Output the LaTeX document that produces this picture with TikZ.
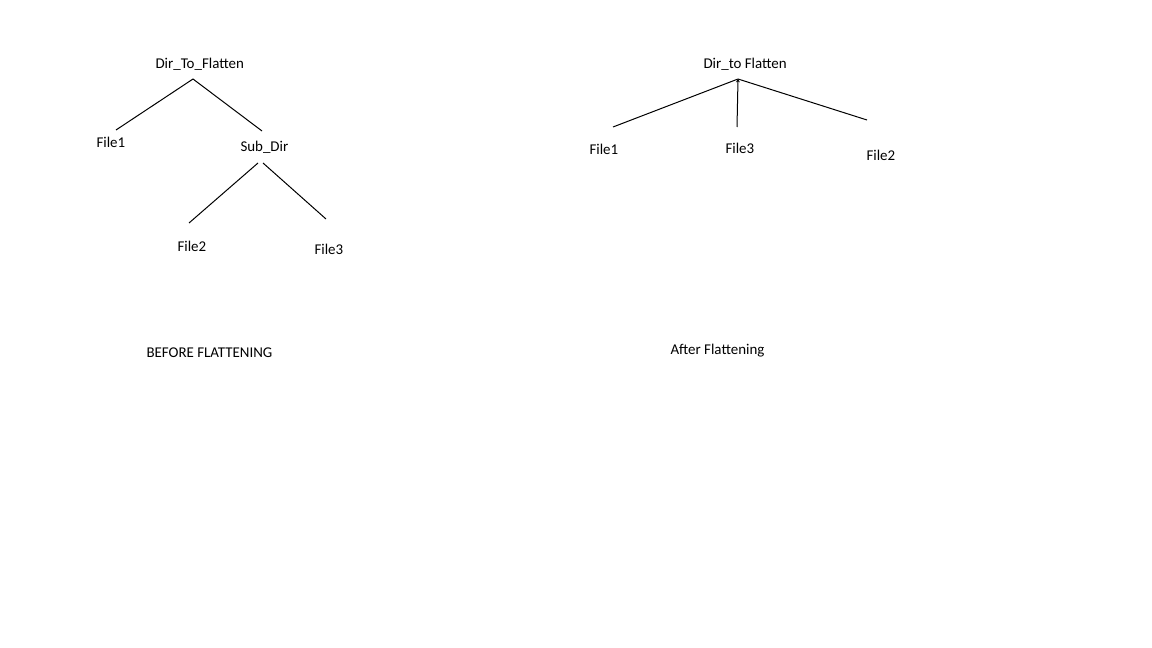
\documentclass[tikz,border=0pt]{standalone}
\usepackage{fontspec}
\setmainfont{Carlito}
\usetikzlibrary{arrows.meta}
\tikzset{lbl/.style={anchor=base west, inner sep=0pt, font=\fontsize{11.2}{13}\selectfont}}
\begin{document}
\begin{tikzpicture}[x=0.75pt, y=-0.75pt, line width=0.75pt]
    \useasboundingbox[fill=white] (0,0) rectangle (1152,648);

    % before
    \node[lbl] (root) at (155,69) {Dir\_To\_Flatten};
    \node[lbl] (fileA) at (96,148) {File1};
    \node[lbl] (sub) at (240,152) {Sub\_Dir};
    \node[lbl] (fileB) at (177,252) {File2};
    \node[lbl] (fileC) at (314,255) {File3};
    \coordinate (rootjoin) at (193,79);
    \coordinate (subjoinA) at (258,163);
    \coordinate (subjoinB) at (263,163);
    \draw (rootjoin) -- (116,130) coordinate (toA);
    \draw (rootjoin) -- (262,131) coordinate (toSub);
    \draw (subjoinA) -- (189,223) coordinate (toB);
    \draw (subjoinB) -- (326,219) coordinate (toC);
    \node[lbl] (before) at (146,358) {BEFORE FLATTENING};

    % after
    \node[lbl] (flat) at (703,69) {Dir\_to Flatten};
    \node[lbl] (flatA) at (589,155) {File1};
    \node[lbl] (flatC) at (725,154) {File3};
    \node[lbl] (flatB) at (866,161) {File2};
    \coordinate (flatjoin) at (738,79);
    \draw (flatjoin) -- (613,127) coordinate (toflatA);
    \draw[-{Stealth[length=2.5pt,width=3pt]}] (737,127) coordinate (toflatC) -- (flatjoin);
    \draw (flatjoin) -- (867,120) coordinate (toflatB);
    \node[lbl] (after) at (670,354) {After Flattening};
\end{tikzpicture}
\end{document}
